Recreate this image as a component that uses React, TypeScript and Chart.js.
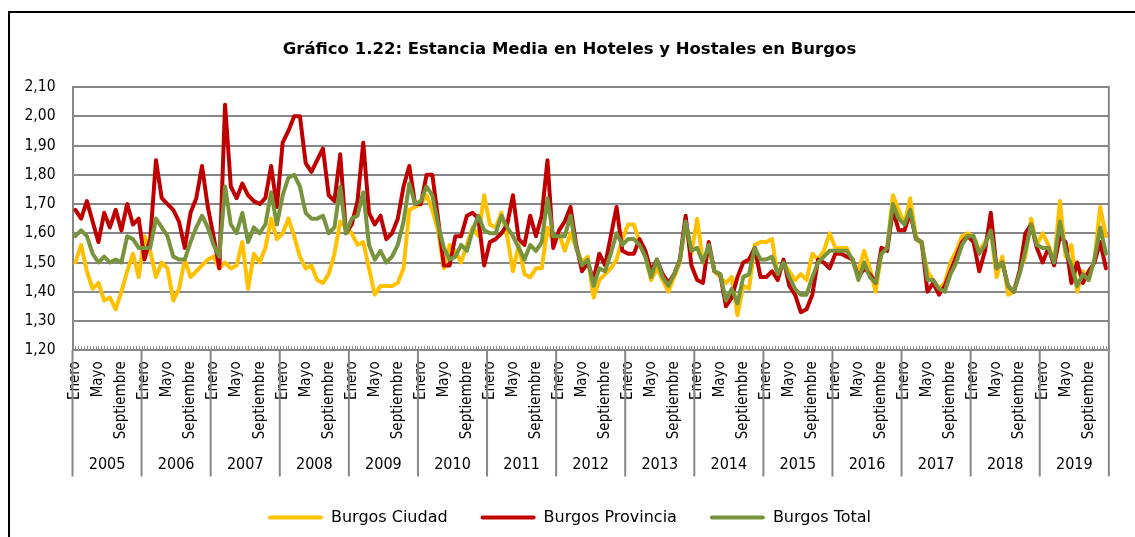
import React, { useEffect, useRef } from 'react';
import { Chart, registerables } from 'chart.js';

Chart.register(...registerables);

const TITLE = 'Gráfico 1.22: Estancia Media en Hoteles y Hostales en Burgos';
const YEARS = ['2005', '2006', '2007', '2008', '2009', '2010', '2011', '2012', '2013', '2014', '2015', '2016', '2017', '2018', '2019'];
const MONTHS = ['Enero', 'Febrero', 'Marzo', 'Abril', 'Mayo', 'Junio', 'Julio', 'Agosto', 'Septiembre', 'Octubre', 'Noviembre', 'Diciembre'];
const SHOWN_MONTHS = ['Enero', 'Mayo', 'Septiembre'];
const Y_MIN = 1.2;
const Y_MAX = 2.1;
const Y_STEP = 0.1;
const SERIES_NAMES = ['Burgos Ciudad', 'Burgos Provincia', 'Burgos Total'];
const SERIES_COLORS = ['#FFC000', '#C00000', '#77933C'];

const CIUDAD = [
  1.50, 1.56, 1.47, 1.41, 1.43, 1.37, 1.38, 1.34, 1.40, 1.47, 1.53, 1.45,
  1.59, 1.54, 1.45, 1.50, 1.48, 1.37, 1.41, 1.51, 1.45, 1.47, 1.49, 1.51,
  1.52, 1.48, 1.50, 1.48, 1.49, 1.57, 1.41, 1.53, 1.50, 1.55, 1.65, 1.58,
  1.60, 1.65, 1.59, 1.52, 1.48, 1.49, 1.44, 1.43, 1.46, 1.53, 1.64, 1.62,
  1.60, 1.56, 1.57, 1.48, 1.39, 1.42, 1.42, 1.42, 1.43, 1.48, 1.68, 1.69,
  1.70, 1.73, 1.68, 1.61, 1.48, 1.56, 1.54, 1.50, 1.56, 1.62, 1.59, 1.73,
  1.63, 1.62, 1.67, 1.59, 1.47, 1.56, 1.46, 1.45, 1.48, 1.48, 1.62, 1.57,
  1.60, 1.54, 1.60, 1.55, 1.50, 1.52, 1.38, 1.44, 1.46, 1.48, 1.51, 1.58,
  1.63, 1.63, 1.57, 1.52, 1.44, 1.48, 1.44, 1.40, 1.45, 1.50, 1.64, 1.53,
  1.65, 1.50, 1.55, 1.47, 1.45, 1.43, 1.45, 1.32, 1.42, 1.41, 1.56, 1.57,
  1.57, 1.58, 1.45, 1.50, 1.47, 1.44, 1.46, 1.44, 1.53, 1.51, 1.54, 1.60,
  1.55, 1.55, 1.55, 1.50, 1.47, 1.54, 1.48, 1.40, 1.53, 1.55, 1.73, 1.68,
  1.63, 1.72, 1.59, 1.56, 1.47, 1.44, 1.41, 1.43, 1.50, 1.54, 1.59, 1.60,
  1.59, 1.54, 1.57, 1.61, 1.45, 1.52, 1.39, 1.40, 1.47, 1.52, 1.65, 1.56,
  1.60, 1.56, 1.50, 1.71, 1.52, 1.56, 1.40, 1.47, 1.44, 1.51, 1.69, 1.59,
];

const PROVINCIA = [
  1.68, 1.65, 1.71, 1.64, 1.57, 1.67, 1.62, 1.68, 1.61, 1.70, 1.63, 1.65,
  1.51, 1.58, 1.85, 1.72, 1.70, 1.68, 1.64, 1.55, 1.67, 1.72, 1.83, 1.69,
  1.59, 1.48, 2.04, 1.76, 1.72, 1.77, 1.73, 1.71, 1.70, 1.72, 1.83, 1.69,
  1.91, 1.95, 2.00, 2.00, 1.84, 1.81, 1.85, 1.89, 1.73, 1.71, 1.87, 1.60,
  1.63, 1.71, 1.91, 1.67, 1.63, 1.66, 1.58, 1.60, 1.65, 1.76, 1.83, 1.70,
  1.70, 1.80, 1.80, 1.65, 1.49, 1.49, 1.59, 1.59, 1.66, 1.67, 1.65, 1.49,
  1.57, 1.58, 1.60, 1.63, 1.73, 1.58, 1.56, 1.66, 1.59, 1.66, 1.85, 1.55,
  1.61, 1.64, 1.69, 1.56, 1.47, 1.50, 1.44, 1.53, 1.49, 1.59, 1.69, 1.54,
  1.53, 1.53, 1.58, 1.54, 1.47, 1.51, 1.46, 1.43, 1.46, 1.51, 1.66, 1.49,
  1.44, 1.43, 1.57, 1.47, 1.46, 1.35, 1.38, 1.45, 1.50, 1.51, 1.55, 1.45,
  1.45, 1.47, 1.44, 1.51, 1.42, 1.39, 1.33, 1.34, 1.39, 1.51, 1.50, 1.48,
  1.53, 1.53, 1.52, 1.51, 1.45, 1.48, 1.46, 1.43, 1.55, 1.54, 1.68, 1.61,
  1.61, 1.67, 1.58, 1.57, 1.40, 1.43, 1.39, 1.42, 1.47, 1.52, 1.57, 1.59,
  1.57, 1.47, 1.54, 1.67, 1.48, 1.50, 1.42, 1.40, 1.47, 1.60, 1.63, 1.55,
  1.50, 1.55, 1.49, 1.59, 1.57, 1.43, 1.50, 1.43, 1.47, 1.50, 1.57, 1.48,
];

const TOTAL = [
  1.59, 1.61, 1.59, 1.53, 1.50, 1.52, 1.50, 1.51, 1.50, 1.59, 1.58, 1.55,
  1.55, 1.55, 1.65, 1.62, 1.59, 1.52, 1.51, 1.51, 1.57, 1.62, 1.66, 1.62,
  1.56, 1.52, 1.76, 1.63, 1.60, 1.67, 1.57, 1.62, 1.60, 1.63, 1.74, 1.63,
  1.73, 1.79, 1.80, 1.76, 1.67, 1.65, 1.65, 1.66, 1.60, 1.62, 1.76, 1.60,
  1.65, 1.66, 1.74, 1.56, 1.51, 1.54, 1.50, 1.52, 1.56, 1.64, 1.77, 1.70,
  1.71, 1.76, 1.73, 1.63, 1.55, 1.51, 1.52, 1.56, 1.54, 1.61, 1.66, 1.61,
  1.60, 1.60, 1.66, 1.62, 1.59, 1.55, 1.51, 1.56, 1.54, 1.57, 1.72, 1.59,
  1.59, 1.59, 1.66, 1.55, 1.49, 1.51, 1.42, 1.48, 1.47, 1.53, 1.60, 1.56,
  1.58, 1.58, 1.56, 1.52, 1.45, 1.51, 1.45, 1.42, 1.46, 1.51, 1.64, 1.54,
  1.55, 1.50, 1.56, 1.47, 1.46, 1.37, 1.41, 1.36, 1.45, 1.46, 1.55, 1.51,
  1.51, 1.52, 1.46, 1.50, 1.45, 1.41, 1.39, 1.39, 1.45, 1.50, 1.52, 1.54,
  1.54, 1.54, 1.54, 1.51, 1.44, 1.50, 1.45, 1.43, 1.53, 1.55, 1.70, 1.65,
  1.63, 1.68, 1.58, 1.57, 1.44, 1.44, 1.41, 1.40, 1.46, 1.50, 1.56, 1.59,
  1.59, 1.53, 1.56, 1.61, 1.48, 1.50, 1.42, 1.40, 1.46, 1.54, 1.63, 1.56,
  1.55, 1.55, 1.50, 1.64, 1.54, 1.49, 1.42, 1.46, 1.44, 1.51, 1.62, 1.53,
];

const GRID = '#878787';
const NARROW = "'Liberation Sans Narrow', 'DejaVu Sans Condensed', sans-serif";

const decorPlugin = {
  id: 'decor',
  beforeDraw(chart: any) {
    const { ctx, width, height } = chart;
    ctx.save();
    ctx.fillStyle = '#ffffff';
    ctx.fillRect(0, 0, width, height);
    ctx.fillStyle = '#000000';
    ctx.fillRect(8, 11, width - 8, 2);
    ctx.fillRect(8, 11, 2, height - 11);
    ctx.restore();
  },
  afterDraw(chart: any) {
    const { ctx, chartArea: ca, scales } = chart;
    const x = scales.x;
    const step = x.getPixelForValue(1) - x.getPixelForValue(0);
    const n = chart.data.labels.length;
    ctx.save();
    ctx.strokeStyle = GRID;
    ctx.lineWidth = 2;
    ctx.beginPath();
    ctx.moveTo(ca.right, ca.top - 1);
    ctx.lineTo(ca.right, ca.bottom);
    ctx.stroke();
    ctx.lineWidth = 1;
    ctx.beginPath();
    for (let k = 0; k <= n * 2; k++) {
      const px = Math.round(ca.left + (k * step) / 2) + 0.5;
      ctx.moveTo(px, ca.bottom - 1);
      ctx.lineTo(px, ca.bottom - 4);
    }
    ctx.stroke();
    ctx.lineWidth = 2;
    ctx.beginPath();
    for (let k = 0; k <= YEARS.length; k++) {
      const px = k < YEARS.length ? x.getPixelForValue(k * 12) - step / 2 : ca.right;
      ctx.moveTo(px, ca.bottom);
      ctx.lineTo(px, x.bottom);
    }
    ctx.stroke();
    ctx.fillStyle = '#000000';
    ctx.font = `16px ${NARROW}`;
    ctx.textAlign = 'center';
    ctx.textBaseline = 'middle';
    YEARS.forEach((yr, k) => {
      const cx = x.getPixelForValue(k * 12 + 5.5);
      ctx.fillText(yr, cx, x.bottom - 12);
    });
    ctx.restore();
  },
};

export default function App() {
  const canvasRef = useRef<HTMLCanvasElement | null>(null);

  useEffect(() => {
    const canvas = canvasRef.current;
    if (!canvas) return;
    const labels = YEARS.flatMap((yr) => MONTHS.map((m) => `${m} ${yr}`));
    const seriesData = [CIUDAD, PROVINCIA, TOTAL];
    const chart = new Chart(canvas, {
      type: 'line',
      data: {
        labels,
        datasets: SERIES_NAMES.map((name, i) => ({
          label: name,
          data: seriesData[i],
          borderColor: SERIES_COLORS[i],
          backgroundColor: SERIES_COLORS[i],
          borderWidth: 4,
          pointRadius: 0,
          pointHoverRadius: 0,
          tension: 0,
          fill: false,
          borderJoinStyle: 'round',
          borderCapStyle: 'round',
          order: 3 - i,
        })),
      },
      options: {
        responsive: false,
        animation: false,
        events: [],
        layout: { padding: { left: 22, right: 18, top: 0, bottom: 1.5 } },
        plugins: {
          tooltip: { enabled: false },
          title: {
            display: true,
            text: TITLE,
            color: '#000000',
            font: { family: "'DejaVu Sans', sans-serif", size: 16.5, weight: 'bold' },
            padding: { top: 40.1, bottom: 27.2 },
          },
          legend: {
            position: 'bottom',
            labels: {
              boxWidth: 55,
              boxHeight: 4,
              padding: 33,
              color: '#000000',
              font: { family: "'DejaVu Sans', sans-serif", size: 16 },
              useBorderRadius: true,
              borderRadius: 2,
              sort: (a: any, b: any) => a.datasetIndex - b.datasetIndex,
              generateLabels: (c: any) =>
                (Chart.defaults.plugins.legend.labels as any)
                  .generateLabels(c)
                  .map((item: any) => ({ ...item, lineWidth: 0 })),
            },
          },
        },
        scales: {
          x: {
            type: 'category',
            offset: true,
            grid: { display: false, drawTicks: false },
            border: { display: true, color: GRID, width: 2 },
            ticks: {
              autoSkip: false,
              maxRotation: 90,
              minRotation: 90,
              padding: 11,
              color: '#000000',
              font: { family: NARROW, size: 15 },
              callback: (_v: any, idx: number) => {
                const m = MONTHS[idx % 12];
                return SHOWN_MONTHS.includes(m) ? m : '';
              },
            },
            afterFit: (scale: any) => {
              scale.height = 126.3;
            },
          },
          y: {
            min: Y_MIN,
            max: Y_MAX,
            grid: { color: GRID, lineWidth: 2, drawTicks: false },
            border: { display: true, color: GRID, width: 2 },
            ticks: {
              stepSize: Y_STEP,
              padding: 17,
              color: '#000000',
              font: { family: NARROW, size: 15.5 },
              callback: (v: any) => Number(v).toFixed(2).replace('.', ','),
            },
            afterFit: (scale: any) => {
              scale.width = 50.5;
            },
          },
        },
      },
      plugins: [decorPlugin],
    } as any);
    return () => chart.destroy();
  }, []);

  return (
    <div style={{ position: 'fixed', left: 0, top: 0, width: 1135, height: 537, background: '#fff' }}>
      <canvas ref={canvasRef} width={1135} height={537} style={{ display: 'block', width: 1135, height: 537 }} />
    </div>
  );
}
